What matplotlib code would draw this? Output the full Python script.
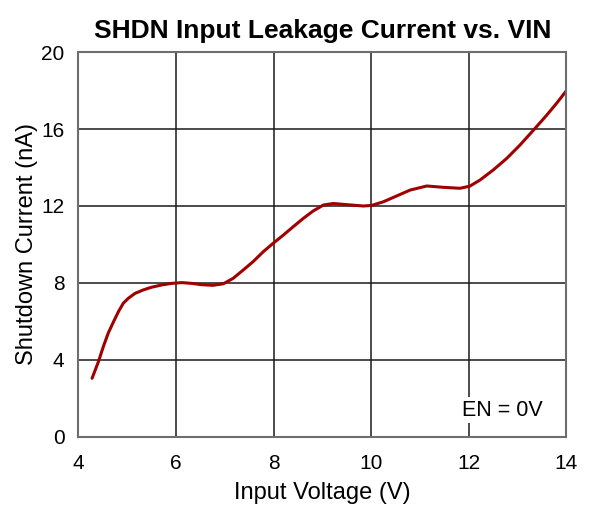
import matplotlib
matplotlib.use("Agg")
import matplotlib.pyplot as plt

plt.rcParams['font.family'] = ['Liberation Sans', 'DejaVu Sans']

vin = [4.28, 4.41, 4.51, 4.61, 4.72, 4.82, 4.92, 5.02, 5.16, 5.33, 5.50, 5.71, 5.91,
       6.12, 6.32, 6.53, 6.76, 6.97, 7.17, 7.38, 7.58, 7.79, 7.99, 8.20, 8.40, 8.61,
       8.81, 9.02, 9.22, 9.50, 9.84, 10.01, 10.25, 10.52, 10.80, 11.14, 11.48, 11.82,
       12.02, 12.23, 12.50, 12.78, 13.05, 13.36, 13.60, 13.80, 14.0]
ishdn = [3.05, 3.91, 4.69, 5.39, 5.99, 6.51, 6.95, 7.2, 7.46, 7.64, 7.78, 7.9, 7.98,
         8.02, 7.98, 7.91, 7.88, 7.96, 8.24, 8.68, 9.11, 9.63, 10.06, 10.49, 10.92, 11.36,
         11.74, 12.05, 12.13, 12.07, 12.0, 12.03, 12.22, 12.52, 12.83, 13.04, 12.97, 12.92,
         13.03, 13.35, 13.87, 14.48, 15.17, 16.04, 16.73, 17.34, 17.99]
xticks = [4, 6, 8, 10, 12, 14]
yticks = [0, 4, 8, 12, 16, 20]

fig = plt.figure(figsize=(5.9, 5.05), dpi=100)
ax = fig.add_axes([0.1329, 0.1347, 0.8271, 0.7623])
ax.plot(vin, ishdn, color='#A00000', lw=2.2, solid_joinstyle='round', solid_capstyle='round')
ax.set_xlim(4, 14)
ax.set_ylim(0, 20)
ax.set_xticks(xticks)
ax.set_yticks(yticks)
ax.tick_params(length=0, labelsize=15, colors='black')
ax.tick_params(axis='x', pad=12)
ax.tick_params(axis='y', pad=10)
ax.grid(True, color='#1a1a1a', lw=1.1)
ax.set_axisbelow(True)
for s in ax.spines.values():
    s.set_color('#6e6e6e')
    s.set_linewidth(1.5)
ax.set_xlabel('Input Voltage (V)', fontsize=17, labelpad=7)
ax.set_ylabel('Shutdown Current (nA)', fontsize=17, labelpad=2)
ax.set_title('SHDN Input Leakage Current vs. VIN', fontsize=19, fontweight='bold', pad=10)
ax.text(12.68, 1.4, 'EN = 0V', fontsize=15.5, ha='center', va='center',
        bbox=dict(facecolor='white', edgecolor='none', pad=2))
fig.savefig('out.png', dpi=100)
